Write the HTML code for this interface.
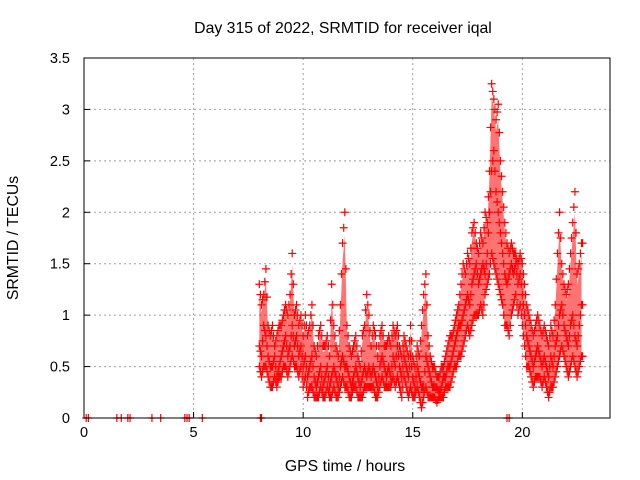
<!DOCTYPE html>
<html><head><meta charset="utf-8"><style>
body{margin:0;background:#fff}
svg{display:block;font-family:"Liberation Sans",sans-serif}
</style></head><body>
<svg id="chart" width="640" height="480">
<text x="343" y="33" text-anchor="middle" font-size="15.8">Day 315 of 2022, SRMTID for receiver iqal</text>
<text transform="translate(18,238) rotate(-90)" text-anchor="middle" font-size="15.8">SRMTID / TECUs</text>
<text x="345" y="471" text-anchor="middle" font-size="15.8">GPS time / hours</text>
<g id="grid"></g>
<g id="band"></g>
<g id="marks"></g>
<rect x="84" y="58" width="526" height="360" fill="none" stroke="#000" stroke-width="1"/>
<g id="ticks"></g>
</svg>
<script>
const xTicks=[0,5,10,15,20];
const yTicks=[0,0.5,1,1.5,2,2.5,3,3.5];
const yTickLabels=["0","0.5","1","1.5","2","2.5","3","3.5"];
const rugTimes=[0.1,0.2,1.5,1.7,2.0,2.1,3.1,3.5,4.6,4.7,4.8,5.4,8.05,8.1,19.3,19.4];
const times=[8.0,8.1,8.2,8.3,8.4,8.5,8.6,8.7,8.8,8.9,9.0,9.1,9.2,9.3,9.4,9.5,9.6,9.7,9.8,9.9,10.0,10.1,10.2,10.3,10.4,10.5,10.6,10.7,10.8,10.9,11.0,11.1,11.2,11.3,11.4,11.5,11.6,11.7,11.8,11.9,12.0,12.1,12.2,12.3,12.4,12.5,12.6,12.7,12.8,12.9,13.0,13.1,13.2,13.3,13.4,13.5,13.6,13.7,13.8,13.9,14.0,14.1,14.2,14.3,14.4,14.5,14.6,14.7,14.8,14.9,15.0,15.1,15.2,15.3,15.4,15.5,15.6,15.7,15.8,15.9,16.0,16.1,16.2,16.3,16.4,16.5,16.6,16.7,16.8,16.9,17.0,17.1,17.2,17.3,17.4,17.5,17.6,17.7,17.8,17.9,18.0,18.1,18.2,18.3,18.4,18.5,18.6,18.7,18.8,18.9,19.0,19.1,19.2,19.3,19.4,19.5,19.6,19.7,19.8,19.9,20.0,20.1,20.2,20.3,20.4,20.5,20.6,20.7,20.8,20.9,21.0,21.1,21.2,21.3,21.4,21.5,21.6,21.7,21.8,21.9,22.0,22.1,22.2,22.3,22.4,22.5,22.6,22.7];
const vMid=[.7,.6,.9,.8,.6,.5,.5,.6,.4,.5, .6,.7,.8,.6,.7,.9,.7,.8,.6,.7, .5,.6,.4,.5,.6,.4,.3,.4,.5,.3, .4,.5,.3,.4,.5,.4,.3,.5,.6,.5, .5,.4,.3,.4,.5,.4,.3,.4,.5,.4, .5,.4,.5,.4,.3,.5,.6,.5,.4,.5, .4,.6,.5,.7,.5,.4,.6,.5,.4,.6, .4,.3,.5,.4,.3,.3,.6,.5,.4,.3, .3,.3,.25,.3,.4,.4,.5,.5,.6,.7, .8,.9,.9,1.0,1.1,1.2,1.1,1.3,1.4,1.5, 1.3,1.4,1.5,1.4,1.6,2.0,2.4,2.6,2.2,2.0, 1.8,1.6,1.4,1.3,1.4,1.5,1.4,1.5,1.3,1.4, 1.2,1.0,.8,.7,.6,.5,.6,.7,.6,.5, .6,.5,.4,.6,.5,.7,.8,1.0,1.1,.9, .8,.7,.9,1.0,.8,.7,.9,1.1];
const vLow=[.5,.4,.5,.5,.4,.3,.3,.4,.3,.4, .4,.5,.5,.4,.5,.6,.5,.5,.4,.5, .3,.4,.2,.3,.3,.2,.2,.2,.3,.2, .2,.3,.2,.2,.3,.2,.2,.3,.4,.3, .3,.2,.2,.3,.3,.2,.2,.2,.3,.3, .3,.3,.3,.2,.2,.3,.4,.3,.3,.3, .3,.4,.3,.4,.3,.2,.4,.3,.2,.3, .2,.2,.3,.2,.1,.2,.3,.2,.2,.2, .2,.15,.2,.2,.2,.3,.3,.3,.4,.5, .5,.6,.6,.7,.8,.9,.8,.9,1.0,1.0, 1.0,1.1,1.0,1.2,1.3,1.4,1.6,1.5,1.4,1.3, 1.2,1.1,.9,.9,.8,1.0,1.1,1.2,1.0,1.1, .9,.7,.5,.5,.4,.3,.4,.4,.4,.3, .4,.3,.2,.3,.3,.4,.5,.6,.7,.6, .5,.4,.5,.6,.5,.4,.5,.6];
const vHigh=[1.3,1.1,1.2,1.45,.9,.8,.9,.7,.8,.9, .9,1.0,1.1,1.0,1.2,1.6,1.0,1.1,.9,1.0, .8,1.0,.8,.9,1.1,.7,.6,.8,.9,.7, .7,.8,.6,1.3,.9,.7,.6,1.1,1.7,2.0, .9,.7,.6,.7,.8,.6,.5,.8,.9,1.2, 1.0,.7,.9,.8,.6,.8,.9,.7,.7,.8, .7,.9,.8,.9,.7,.6,.8,.7,.6,.9, .6,.5,.7,.6,.9,1.2,1.4,.8,.6,.5, .5,.4,.4,.5,.5,.6,.7,.8,.8,.9, 1.0,1.1,1.3,1.5,1.4,1.6,1.5,1.8,1.9,1.7, 1.6,1.8,1.7,2.0,1.9,2.4,3.25,3.1,2.9,3.05, 2.5,2.2,1.9,1.7,1.6,1.7,1.6,1.6,1.5,1.6, 1.5,1.3,1.1,1.0,.9,.8,.9,1.0,.9,.8, .9,.8,.7,.9,.8,1.1,1.6,2.0,1.5,1.3, 1.2,1.3,1.6,1.9,2.2,1.4,1.5,1.7];

const NS="http://www.w3.org/2000/svg";
const X0=84,X1=610,Y0=418,Y1=58;
function xs(t){return X0+(t/24)*(X1-X0);}
function ys(v){return Y0-(v/3.5)*(Y0-Y1);}
function mk(tag,attrs,parent){const e=document.createElementNS(NS,tag);for(const k in attrs)e.setAttribute(k,attrs[k]);parent.appendChild(e);return e;}
const grid=document.getElementById('grid'),ticks=document.getElementById('ticks'),marks=document.getElementById('marks'),band=document.getElementById('band');
xTicks.forEach(t=>{
 const x=xs(t);
 if(t>0){const g=mk('line',{x1:x,x2:x,y1:Y1,y2:Y0,stroke:'#a0a0a0','stroke-dasharray':'2,3'},grid);
 
 }
 const tk=mk('line',{x1:x,x2:x,y1:Y0,y2:Y0-6,stroke:'#000'},ticks);
 
 
 const lb=mk('text',{x:x,y:Y0+19,'text-anchor':'middle','font-size':'14.5'},ticks);lb.textContent=String(t);
 
 
});
yTicks.forEach((v,i)=>{
 const y=ys(v);
 if(v>0&&v<3.5){const g=mk('line',{x1:X0,x2:X1,y1:y,y2:y,stroke:'#a0a0a0','stroke-dasharray':'2,3'},grid);
 
 }
 const tk=mk('line',{x1:X0,x2:X0+6,y1:y,y2:y,stroke:'#000'},ticks);
 
 
 const lb=mk('text',{x:X0-14,y:y+5,'text-anchor':'end','font-size':'14.5'},ticks);lb.textContent=yTickLabels[i];
 
 
});
let d='';times.forEach((t,i)=>{d+=(i?'L':'M')+xs(t)+','+ys(vHigh[i]*0.85+vMid[i]*0.15);});
for(let i=times.length-1;i>=0;i--)d+='L'+xs(times[i])+','+ys(vLow[i]);
const bp=mk('path',{d:d+'Z',fill:'#ff0000','fill-opacity':'0.55'},band);


function plus(x,y,c){
 const p=mk('path',{d:`M${x-4},${y}h8M${x},${y-4}v8`,stroke:c,'stroke-width':'1.2',fill:'none'},marks);
 
 
}
[vLow,vMid,vHigh].forEach((arr,k)=>{
 times.forEach((t,i)=>{
  plus(xs(t),ys(arr[i]),'#ff0000');
  plus(xs(t+0.05),ys((arr[i]+(arr[i+1]!==undefined?arr[i+1]:arr[i]))/2),'#ff0000');
 });
});
rugTimes.forEach(t=>plus(xs(t),Y0,'#ff0000'));
</script>
</body></html>
